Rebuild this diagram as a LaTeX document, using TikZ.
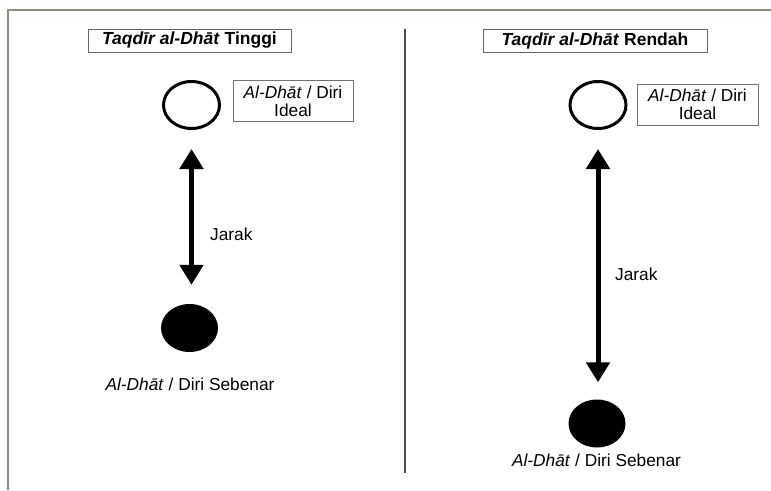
\documentclass[tikz,border=0pt]{standalone}
\usepackage{fontspec}
\setmainfont{Liberation Sans}
\usetikzlibrary{shapes.geometric,arrows.meta}
\begin{document}
\begin{tikzpicture}[x=1pt,y=-1pt,
  titlebox/.style={draw=black!60,line width=0.9pt,minimum height=23pt,inner sep=0pt,font=\fontsize{17.5}{19}\selectfont\bfseries},
  labelbox/.style={draw=black!55,line width=0.8pt,minimum height=41pt,inner sep=0pt,align=center,font=\fontsize{17.3}{18}\selectfont},
  opencirc/.style={ellipse,draw=black,line width=3pt,minimum width=56pt,minimum height=47pt,inner sep=0pt},
  fullcirc/.style={ellipse,fill=black,minimum width=57pt,minimum height=48pt,inner sep=0pt},
  plaintext/.style={inner sep=0pt,font=\fontsize{17.3}{19}\selectfont},
  dist/.style={line width=5pt,{Triangle[width=23pt,length=20pt]}-{Triangle[width=23pt,length=20pt]}},
  frameline/.style={draw=brown!30!black!55,line width=2pt},
  divline/.style={draw=black!70,line width=2pt}]
\useasboundingbox (0,0) rectangle (771,490);
\draw[frameline] (8,490) -- (8,10) -- (771,10);
\draw[divline] (405,29) -- (405,473);
% left panel
\node[titlebox,minimum width=203pt] (t1) at (189.5,40.5) {\textit{Taqdīr al-Dhāt} Tinggi};
\node[opencirc] (c1) at (191.5,105) {};
\node[labelbox,minimum width=120pt] (l1) at (293,101) {\textit{Al-Dhāt} / Diri\\Ideal};
\node[fullcirc] (e1) at (189.5,328) {};
\node[plaintext] (s1) at (190,384) {\textit{Al-Dhāt} / Diri Sebenar};
\draw[dist,shorten <=19pt,shorten >=19pt] (c1.south) -- (c1.south |- e1.north) coordinate (a1);
\node[plaintext,anchor=west] (j1) at (210,234) {Jarak};
% right panel
\node[titlebox,minimum width=224pt] (t2) at (595,40.5) {\textit{Taqdīr al-Dhāt} Rendah};
\node[opencirc] (c2) at (598,105) {};
\node[labelbox,minimum width=121pt] (l2) at (697.5,104.5) {\textit{Al-Dhāt} / Diri\\Ideal};
\node[fullcirc] (e2) at (597,423.5) {};
\node[plaintext] (s2) at (596.5,460) {\textit{Al-Dhāt} / Diri Sebenar};
\draw[dist,shorten <=19pt,shorten >=17pt] (c2.south) -- (c2.south |- e2.north) coordinate (a2);
\node[plaintext,anchor=west] (j2) at (615,274) {Jarak};
\end{tikzpicture}
\end{document}
